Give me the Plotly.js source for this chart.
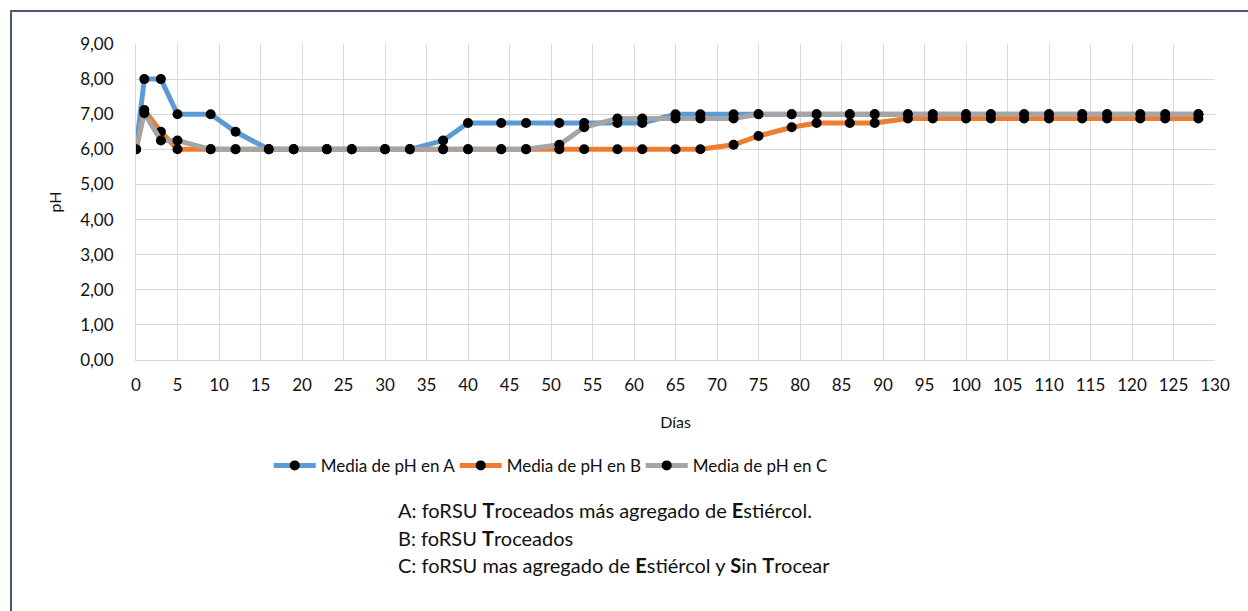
<!DOCTYPE html>
<html>
<head>
<meta charset="utf-8">
<script src="https://cdn.plot.ly/plotly-3.0.1.min.js"></script>
<style>
  html, body { margin: 0; padding: 0; width: 1248px; height: 611px; overflow: hidden; background: #fff; }
  #frame { position: absolute; left: 10px; top: 10px; width: 1300px; height: 700px; border-left: 2px solid #4a5a70; border-top: 2px solid #4a5a70; }
  #chart { position: absolute; left: 0; top: 0; width: 1248px; height: 611px; }
</style>
</head>
<body>
<div id="frame"></div>
<div id="chart"></div>
<script>
const days = [0,1,3,5,9,12,16,19,23,26,30,33,37,40,44,47,51,54,58,61,65,68,72,75,79,82,86,89,93,96,100,103,107,110,114,117,121,124,128];
const phA = [6,8,8,7,7,6.5,6,6,6,6,6,6,6.25,6.75,6.75,6.75,6.75,6.75,6.75,6.75,7,7,7,7,7,7,7,7,7,7,7,7,7,7,7,7,7,7,7];
const phB = [6,7.12,6.5,6,6,6,6,6,6,6,6,6,6,6,6,6,6,6,6,6,6,6,6.13,6.38,6.63,6.75,6.75,6.75,6.88,6.88,6.88,6.88,6.88,6.88,6.88,6.88,6.88,6.88,6.88];
const phC = [6,7.03,6.25,6.25,6,6,6,6,6,6,6,6,6,6,6,6,6.13,6.63,6.88,6.88,6.88,6.88,6.88,7,7,7,7,7,7,7,7,7,7,7,7,7,7,7,7];
const seriesNames = ['Media de pH en A','Media de pH en B','Media de pH en C'];
const seriesColors = ['#5B9BD5','#ED7D31','#A5A5A5'];
const notes = [
  'A: foRSU <b>T</b>roceados más agregado de <b>E</b>stiércol.',
  'B: foRSU <b>T</b>roceados',
  'C: foRSU mas agregado de <b>E</b>stiércol y <b>S</b>in <b>T</b>rocear'
];
const FONT = 'Lato, Open Sans, sans-serif';

const ys = [phA, phB, phC];
const traces = ys.map((y, i) => ({
  x: days, y: y, type: 'scatter', mode: 'lines+markers', name: seriesNames[i],
  line: {color: seriesColors[i], width: 5},
  marker: {color: '#000', size: 10}
}));

const layout = {
  width: 1248, height: 611,
  margin: {l: 136, r: 33, t: 44, b: 251},
  paper_bgcolor: 'rgba(0,0,0,0)', plot_bgcolor: 'rgba(0,0,0,0)',
  separators: ', ',
  font: {family: FONT, size: 17, color: '#111'},
  showlegend: true,
  xaxis: {
    range: [0, 130], dtick: 5, tick0: 0, showgrid: true, gridcolor: '#d9d9d9', gridwidth: 1,
    zeroline: false, showline: true, linecolor: '#d9d9d9', ticks: '', ticklabelstandoff: 10,
    tickfont: {size: 17},
    title: {text: 'Días', font: {size: 16}, standoff: 22}
  },
  yaxis: {
    range: [0, 9], dtick: 1, tick0: 0, tickformat: '.2f', showgrid: true, gridcolor: '#d9d9d9', gridwidth: 1,
    zeroline: false, showline: true, linecolor: '#d9d9d9', ticks: '', ticklabelstandoff: 18,
    tickfont: {size: 17},
    title: {text: 'pH', font: {size: 16}, standoff: 14}
  },
  legend: {
    orientation: 'h', x: 0.123, xanchor: 'left', y: -0.335, yanchor: 'middle',
    itemwidth: 42, entrywidth: 129, entrywidthmode: 'pixels', font: {size: 17}, bgcolor: 'rgba(0,0,0,0)'
  },
  annotations: notes.map((t, i) => ({
    xref: 'paper', yref: 'paper', x: (396 - 136) / 1079, xanchor: 'left',
    y: 1 - (510 + i * 27.5 - 44) / 316, yanchor: 'middle',
    text: t, showarrow: false, align: 'left', font: {size: 20, family: FONT, color: '#111'}
  }))
};

Plotly.newPlot('chart', traces, layout, {displayModeBar: false, staticPlot: true});
</script>
</body>
</html>
